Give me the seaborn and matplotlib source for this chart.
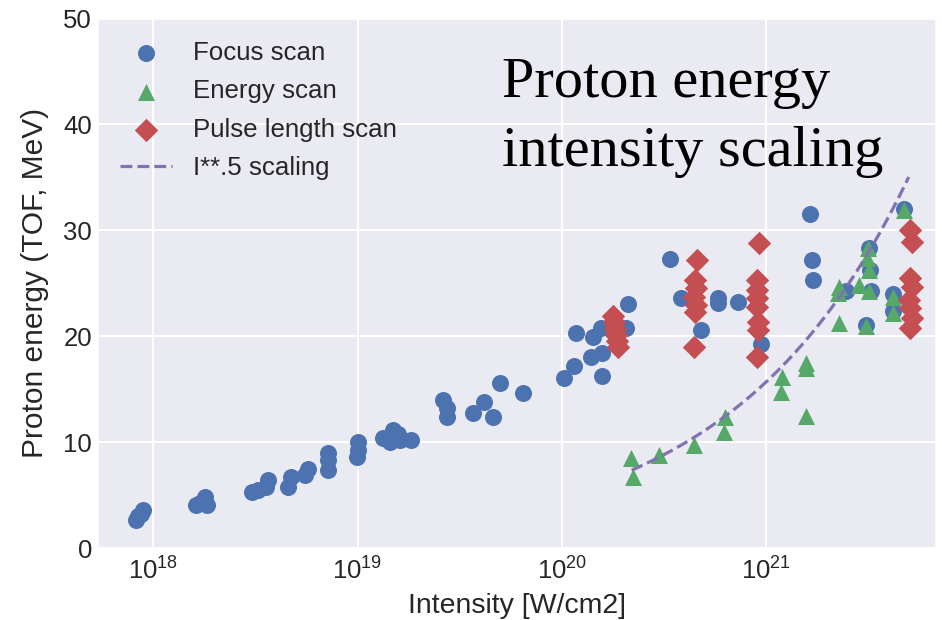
import numpy as np
import pandas as pd
import matplotlib
matplotlib.use("Agg")
import matplotlib.pyplot as plt
import seaborn as sns

# Focus scan shots: intensity [W/cm2] and proton energy [MeV]
focus_I = [8.2e17, 8.4e17, 8.7e17, 8.9e17,
           1.61e18, 1.70e18, 1.80e18, 1.84e18,
           3.05e18, 3.24e18, 3.55e18, 3.63e18, 4.59e18, 4.70e18, 5.56e18, 5.69e18,
           7.13e18, 7.13e18, 7.13e18,
           1.0e19, 1.0e19, 0.99e19, 1.33e19, 1.45e19, 1.50e19, 1.62e19, 1.58e19, 1.82e19,
           2.63e19, 2.75e19, 2.75e19, 3.66e19, 4.15e19, 4.59e19, 5.0e19, 6.44e19,
           1.02e20, 1.15e20, 1.17e20, 1.39e20, 1.42e20, 1.55e20, 1.58e20, 1.58e20,
           2.06e20, 2.11e20,
           3.38e20, 3.83e20, 4.80e20, 5.82e20, 5.82e20, 7.30e20, 9.45e20,
           1.64e21, 1.68e21, 1.70e21,
           2.47e21, 3.20e21, 3.24e21, 3.27e21, 3.09e21, 4.20e21, 4.20e21, 4.75e21]
focus_E = [2.6, 3.0, 3.2, 3.6,
           4.1, 4.2, 4.8, 4.1,
           5.3, 5.5, 5.8, 6.4, 5.8, 6.7, 6.9, 7.5,
           7.4, 8.3, 9.0,
           10.0, 9.2, 8.6, 10.4, 10.0, 11.1, 10.2, 10.8, 10.2,
           14.0, 13.2, 12.4, 12.7, 13.8, 12.4, 15.6, 14.6,
           16.0, 17.2, 20.3, 18.0, 19.9, 20.8, 18.4, 16.2,
           20.8, 23.0,
           27.3, 23.6, 20.6, 23.6, 23.1, 23.2, 19.2,
           31.5, 27.2, 25.3,
           24.2, 28.3, 26.2, 24.2, 21.0, 24.0, 22.4, 32.0]

# Laser energy scan shots
energy_I = [2.18e20, 2.23e20, 2.98e20, 4.44e20, 6.22e20, 6.30e20,
            1.19e21, 1.20e21, 1.57e21, 1.57e21, 1.57e21,
            2.28e21, 2.26e21, 2.28e21, 2.86e21, 3.13e21, 3.16e21, 3.20e21, 3.20e21,
            3.09e21, 4.20e21, 4.20e21, 4.75e21]
energy_E = [8.5, 6.7, 8.8, 9.7, 10.9, 12.4,
            14.7, 16.1, 17.5, 17.0, 12.5,
            24.6, 24.1, 21.2, 24.8, 27.4, 28.3, 26.2, 24.2,
            20.9, 23.7, 22.2, 31.9]

# Pulse length scan shots
pulse_I = [1.78e20, 1.80e20, 1.83e20, 1.85e20, 1.87e20, 1.88e20,
           4.60e20, 4.50e20, 4.55e20, 4.45e20, 4.55e20, 4.50e20, 4.45e20,
           9.20e20, 9.00e20, 9.00e20, 9.00e20, 9.00e20, 9.10e20, 9.10e20, 9.00e20,
           5.10e21, 5.20e21, 5.10e21, 5.20e21, 5.00e21, 5.10e21, 5.20e21, 5.10e21]
pulse_E = [21.9, 21.3, 20.7, 20.1, 19.5, 19.0,
           27.2, 25.3, 24.5, 23.7, 22.9, 22.3, 19.0,
           28.8, 25.3, 24.3, 23.6, 22.7, 21.3, 20.6, 18.0,
           30.0, 28.9, 25.5, 24.6, 23.4, 22.6, 21.7, 20.8]

# Square-root intensity scaling curve, anchored at its upper end
scaling_I_start, scaling_I_end = 2.2e20, 5.0e21
scaling_E_end = 35.0
scaling_I = np.logspace(np.log10(scaling_I_start), np.log10(scaling_I_end), 60)
scaling_E = scaling_E_end * (scaling_I / scaling_I_end) ** 0.5

x_ticks = [1e18, 1e19, 1e20, 1e21]
y_ticks = [0, 10, 20, 30, 40, 50]

sns.set_theme(style="darkgrid", context="talk")
plt.rcParams["font.family"] = ["Liberation Sans", "DejaVu Sans"]

deep = ["#4C72B0", "#55A868", "#C44E52", "#8172B2"]

fig = plt.figure(figsize=(9.42, 6.20), dpi=100)
ax = fig.add_axes([97 / 942, 72 / 620, 839 / 942, 530 / 620])

msize = 150
sns.scatterplot(x=focus_I, y=focus_E, ax=ax, color=deep[0], marker="o",
                s=msize, linewidth=0, label="Focus scan")
sns.scatterplot(x=energy_I, y=energy_E, ax=ax, color=deep[1], marker="^",
                s=msize, linewidth=0, label="Energy scan")
sns.scatterplot(x=pulse_I, y=pulse_E, ax=ax, color=deep[2], marker="D",
                s=msize * 0.95, linewidth=0, label="Pulse length scan")
sns.lineplot(x=scaling_I, y=scaling_E, ax=ax, color=deep[3], linestyle="--",
             linewidth=2.3, label="I**.5 scaling")

ax.set_xscale("log")
ax.set_xlim(5.3e17, 6.8e21)
ax.set_ylim(0, 50)
ax.set_xticks(x_ticks)
ax.set_yticks(y_ticks)
ax.xaxis.set_minor_locator(matplotlib.ticker.NullLocator())
ax.tick_params(axis="both", labelsize=18.5, colors="#262626", length=0)
ax.tick_params(axis="x", pad=7)
ax.tick_params(axis="y", pad=3.5)
ax.set_xlabel("Intensity [W/cm2]", fontsize=20.5, color="#262626", labelpad=6)
ax.set_ylabel("Proton energy (TOF, MeV)", fontsize=21.5, color="#262626", labelpad=10)

handles, labels = ax.get_legend_handles_labels()
ax.legend(handles, labels, loc="upper left", fontsize=18.6, frameon=False,
          labelspacing=0.55, handlelength=2.0, handletextpad=0.8,
          borderaxespad=0.6, borderpad=0.3, scatterpoints=1)

fig.text(502 / 942, 1 - 97 / 620, "Proton energy", family="Liberation Serif",
         fontsize=42, color="black", ha="left", va="baseline")
fig.text(502 / 942, 1 - 166 / 620, "intensity scaling", family="Liberation Serif",
         fontsize=42, color="black", ha="left", va="baseline")

fig.savefig("out.png", dpi=100)
